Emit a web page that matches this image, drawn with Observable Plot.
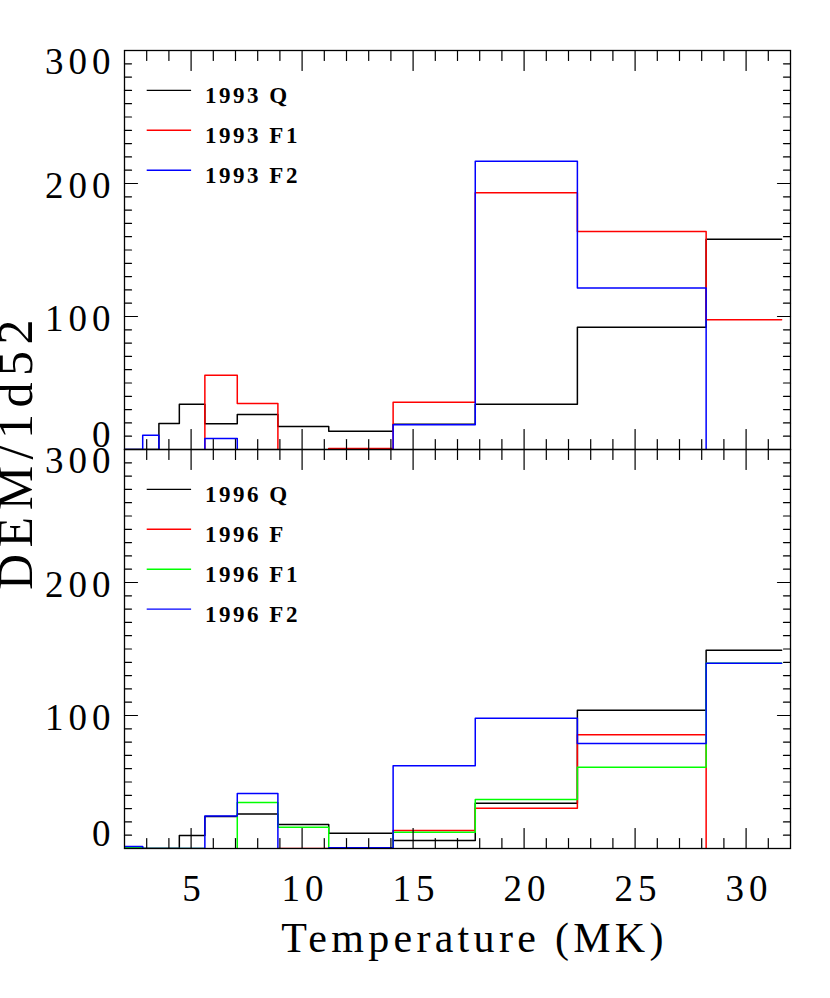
<!DOCTYPE html>
<html>
<head>
<meta charset="utf-8">
<script src="https://cdn.jsdelivr.net/npm/d3@7"></script>
<script src="https://cdn.jsdelivr.net/npm/@observablehq/plot@0.6"></script>
<style>
  body { margin: 0; background: #fff; }
  svg { display: block; }
</style>
</head>
<body>
<div id="chart"></div>
<script>
// ---- Data ----
const panels = ["1993", "1996"];
// Temperature bin edges (MK)
const tempEdges = [2.0, 2.82, 3.55, 4.47, 5.62, 7.08, 8.91, 11.2, 14.1, 17.8, 22.4, 28.2, 31.6];
// DEM / 1d52 per bin (negative = below the plotted range, clipped)
const dem1993Q  = [0, 0, 19.5, 34, 19.3, 26.3, 17.3, 13.8, 19, 34, 92, 158];
const dem1993F1 = [-10, -10, -10, -10, 55.8, 34.5, -10, 0.8, 35.5, 193, 164, 97.5];
const dem1993F2 = [0, 10.8, -10, -10, 8.3, -10, -10, -10, 18.7, 216.7, 121.5, -10];
const dem1996Q  = [0, 0, 0, 9.8, 24, 26, 18, 11.5, 6, 34, 104, 149];
const dem1996F  = [0.5, -10, -10, -10, -10, -10, 0, -10, 13.5, 30.3, 85.5, -10];
const dem1996F1 = [1, 0, 0, 0, -10, 34.5, 16, -10, 12.2, 36.8, 61, 139.3];
const dem1996F2 = [1.5, 0, 0, 0, 24.5, 41.3, -10, 0.5, 62.2, 98, 79, 139.3];

const seriesNames  = ["1993 Q", "1993 F1", "1993 F2", "1996 Q", "1996 F", "1996 F1", "1996 F2"];
const seriesPanel  = ["1993", "1993", "1993", "1996", "1996", "1996", "1996"];
const seriesColors = ["#000000", "#ff0000", "#0000ff", "#000000", "#ff0000", "#00ff00", "#0000ff"];
const seriesValues = [dem1993Q, dem1993F1, dem1993F2, dem1996Q, dem1996F, dem1996F1, dem1996F2];

// Axis ticks and labels
const xTickLabels = [5, 10, 15, 20, 25, 30];
const xMinorTicks = [3, 4, 6, 7, 8, 9, 11, 12, 13, 14, 16, 17, 18, 19, 21, 22, 23, 24, 26, 27, 28, 29, 31];
const yTickLabels = [0, 100, 200, 300];
const yMinorTicks = [10, 20, 30, 40, 50, 60, 70, 80, 90, 110, 120, 130, 140, 150, 160, 170, 180, 190,
                     210, 220, 230, 240, 250, 260, 270, 280, 290];
const xTitle = "Temperature (MK)";
const yTitle = "DEM/1d52";

// ---- Build tables ----
const steps = seriesNames.flatMap((name, s) => {
  const vals = seriesValues[s];
  return tempEdges.map((t, i) => ({
    name, panel: seriesPanel[s], T: t, v: vals[Math.min(i, vals.length - 1)]
  }));
});
const legendRows = seriesNames.map((name, s) => ({
  name, panel: seriesPanel[s],
  k: seriesPanel.slice(0, s).filter(p => p === seriesPanel[s]).length
}));
const bottomPanel = panels[panels.length - 1];

// ---- Tick helper (inward ticks) ----
const tickShape = { draw(ctx, l) { ctx.moveTo(0, 0); ctx.lineTo(0, -l); } };
const tick = (data, o) => Plot.vector(data, {
  shape: tickShape, anchor: "start", stroke: "#000", strokeWidth: 1.2, ...o
});

const serif = "Liberation Serif, Times New Roman, serif";
const yLo = d3.min(yTickLabels), yHi = d3.max(yTickLabels);
const yLab = (data, dy) => Plot.text(data, {
  y: d => d, text: d => String(d), frameAnchor: "left", textAnchor: "end", lineAnchor: "middle",
  dx: -9, dy, fontFamily: serif, fontSize: 37, fill: "#000"
});

const chart = Plot.plot({
  width: 830,
  height: 998,
  marginLeft: 124,
  marginRight: 40,
  marginTop: 49,
  marginBottom: 150,
  x: { domain: [2, 32], axis: null },
  y: { domain: [yLo, yHi], axis: null },
  fy: { domain: panels, axis: null, padding: 0 },
  color: { domain: seriesNames, range: seriesColors },
  marks: [
    // histograms
    Plot.line(steps, {
      x: "T", y: "v", z: "name", stroke: "name", fy: "panel",
      curve: "step-after", strokeWidth: 1.5, clip: true
    }),
    // frame and ticks (repeated in each panel)
    Plot.frame({ stroke: "#000", strokeWidth: 1.3 }),
    tick(xMinorTicks, { x: d => d, frameAnchor: "bottom", rotate: 0, length: 10 }),
    tick(xTickLabels, { x: d => d, frameAnchor: "bottom", rotate: 0, length: 20 }),
    tick(xMinorTicks, { x: d => d, frameAnchor: "top", rotate: 180, length: 10 }),
    tick(xTickLabels, { x: d => d, frameAnchor: "top", rotate: 180, length: 20 }),
    tick(yMinorTicks, { y: d => d, frameAnchor: "left", rotate: 90, length: 7 }),
    tick(yTickLabels, { y: d => d, frameAnchor: "left", rotate: 90, length: 13 }),
    tick(yMinorTicks, { y: d => d, frameAnchor: "right", rotate: -90, length: 7 }),
    tick(yTickLabels, { y: d => d, frameAnchor: "right", rotate: -90, length: 13 }),
    // y tick labels (end labels pulled inside the panel as in the original)
    yLab(yTickLabels.filter(d => d > yLo && d < yHi), 2.5),
    yLab(yTickLabels.filter(d => d === yHi), 11.5),
    yLab(yTickLabels.filter(d => d === yLo), -14),
    // legends inside each panel
    Plot.link(legendRows, {
      x1: 3, x2: 5, y1: d => 270 - 30 * d.k, y2: d => 270 - 30 * d.k,
      stroke: "name", strokeWidth: 1.4, fy: "panel"
    }),
    Plot.text(legendRows, {
      x: 5, y: d => 270 - 30 * d.k, text: "name", fy: "panel",
      textAnchor: "start", lineAnchor: "middle", dx: 14, dy: 5.5, fill: "#000",
      fontFamily: serif, fontWeight: "bold", fontSize: 23
    }),
    // x tick labels under the bottom panel
    Plot.text(xTickLabels, {
      x: d => d, fy: () => bottomPanel, text: d => String(d),
      frameAnchor: "bottom", textAnchor: "middle", lineAnchor: "middle", dy: 41, dx: 3,
      fontFamily: serif, fontSize: 37, fill: "#000"
    }),
    // axis titles
    Plot.text([xTitle], {
      frameAnchor: "bottom", textAnchor: "middle", lineAnchor: "middle",
      text: d => d, dy: 90, dx: 17,
      fontFamily: serif, fontSize: 42, fill: "#000", facet: "super"
    }),
    Plot.text([yTitle], {
      frameAnchor: "left", textAnchor: "middle", lineAnchor: "middle",
      text: d => d, rotate: -90, dx: -109, dy: 2,
      fontFamily: serif, fontSize: 50, fill: "#000", facet: "super"
    })
  ]
});

// letter spacing by font size (the original uses widely spaced glyphs)
const spacing = { "37": "5px", "42": "4.3px", "23": "2.5px", "50": "6.5px" };
d3.select(chart).selectAll("g[font-size]").each(function () {
  const fs = this.getAttribute("font-size");
  if (spacing[fs]) this.style.letterSpacing = spacing[fs];
});

document.getElementById("chart").appendChild(chart);
</script>
</body>
</html>
